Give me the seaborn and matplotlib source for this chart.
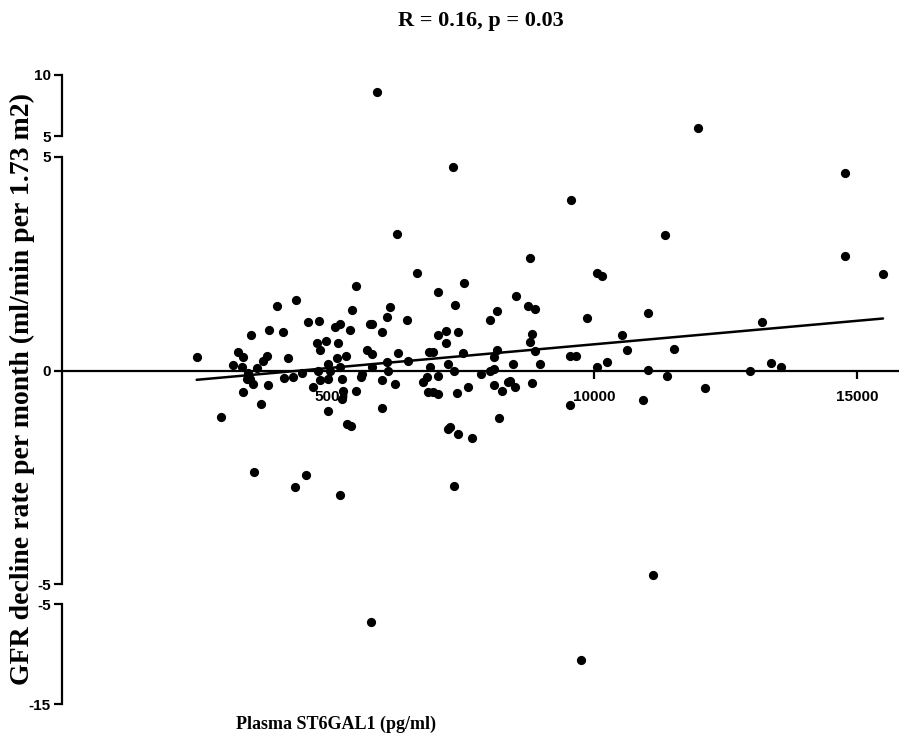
"""
Plasma ST6GAL1 vs GFR decline rate, broken y-axis scatter (Prism style).
"""

import numpy as np
import pandas as pd
import matplotlib
matplotlib.use("Agg")
import matplotlib.pyplot as plt
import seaborn as sns

sns.set_theme(style="white")
plt.rcParams["font.family"] = ["Liberation Sans Narrow", "Liberation Sans", "DejaVu Sans"]
plt.rcParams["text.color"] = "black"

# ── Data ─────────────────────────────────────────────────────────────────────
st6gal1 = [
    2446, 2915, 3479, 3815, 3979, 4334, 4093, 3238, 3320, 3143, 3314, 3713,
    3776, 3587, 3428, 3460, 3523, 3397, 3333, 3808, 3669, 4175, 4113, 4283,
    4441, 4568, 4771, 4727, 4898, 4790, 4746, 4790, 4663, 4949, 4980, 4949,
    4943, 5082, 5139, 5107,
    5171, 5393, 5361, 5475, 5285, 5171, 5203, 5234, 5203, 5298, 5374, 5583,
    5570, 5475, 5678, 5773, 5773, 5741, 5779, 5963, 6058, 6121, 6058, 6090,
    5963, 6216, 5963, 6267, 6451, 6457, 6755, 6831, 6850, 6945, 7040, 6869,
    6932, 6882, 7027, 7027, 7040, 7186, 7186, 7230, 7357, 7420, 7515, 7528,
    7344, 7389, 7610, 7217, 7262, 7420, 7686, 7845, 8022, 8161, 8149, 8104,
    8022, 8098, 8098, 8244, 8199, 8371,
    6634,
    8516, 8750, 8878, 8814, 8783, 8878, 8465, 8973, 8402, 8497, 8827, 9543,
    9657, 9860, 10050, 10253, 10538, 10633, 11032, 11020, 11380, 9543, 10937,
    10056, 10151, 15493, 8783, 14771, 11349, 6254, 9562, 14771, 7319,
    11526, 12109, 13199, 12965, 13364, 13554,
    3536, 4524, 4315, 5171, 7338, 11121,
    5874, 11976,
    5760, 9752,
]
gfr_decline = [
    0.31, -1.10, 0.82, 0.94, 1.51, 1.64, 0.90, 0.43, 0.31, 0.12, 0.08, 0.23,
    0.33, 0.05, -0.06, -0.20, -0.31, -0.20, -0.51, -0.34, -0.78, 0.30, -0.18, -0.16,
    -0.06, 1.13, 1.15, 0.64, 0.68, 0.47, 0.00, -0.23, -0.39, 0.16, 0.00, -0.20,
    -0.96, 1.03, 0.64, 0.30,
    1.10, 1.41, 0.94, 1.97, 0.35, 0.08, -0.20, -0.47, -0.66, -1.25, -1.29, -0.08,
    -0.16, -0.47, 0.49, 0.39, 0.08, 1.10, 1.08, 0.90, 1.25, 1.49, 0.20, 0.00,
    -0.23, -0.31, -0.88, 0.41, 1.19, 0.23, -0.27, -0.16, -0.51, -0.51, -0.55, 0.43,
    0.43, 0.08, -0.12, 1.84, 0.82, 0.92, 0.64, 0.16, 1.53, 0.90, 0.41, 2.06,
    0.00, -0.53, -0.38, -1.37, -1.33, -1.49, -1.59, -0.08, 1.19, 1.39, 0.49, 0.31,
    0.00, 0.04, -0.35, -0.47, -1.11, -0.27,
    2.28,
    1.74, 1.50, 1.43, 0.85, 0.66, 0.45, 0.16, 0.16, -0.25, -0.39, -0.30, 0.35,
    0.33, 1.24, 0.08, 0.20, 0.84, 0.49, 1.35, 0.02, -0.14, -0.81, -0.70,
    2.28, 2.21, 2.25, 2.63, 2.68, 3.17, 3.19, 3.99, 4.62, 4.77,
    0.51, -0.41, 1.13, 0.00, 0.17, 0.08,
    -2.37, -2.44, -2.72, -2.91, -2.70, -4.79,
    8.6, 5.68,
    -6.8, -10.6,
]

df = pd.DataFrame({"st6gal1": st6gal1, "gfr": gfr_decline})

# y ranges of the three axis segments
segments = [(5, 10), (-5, 5), (-15, -5)]
seg_ticks = [[5, 10], [-5, 0, 5], [-15, -5]]

serif = ["Liberation Serif", "DejaVu Serif"]
tick_font = ["Liberation Sans Narrow", "Liberation Sans", "DejaVu Sans"]

# ── Figure with three stacked panels ─────────────────────────────────────────
fig = plt.figure(figsize=(8.99, 7.42), dpi=100)
H = 742.0
W = 899.0
left = 62 / W
width = 1 - left
boxes = [(75, 136), (157, 584), (604, 704)]  # pixel top/bottom

axes = []
for (top, bot), (lo, hi), ticks in zip(boxes, segments, seg_ticks):
    ax = fig.add_axes([left, 1 - bot / H, width, (bot - top) / H])
    sub = df[(df["gfr"] >= lo) & (df["gfr"] <= hi)]
    sns.scatterplot(data=sub, x="st6gal1", y="gfr", ax=ax, color="black",
                    s=44, edgecolor="black", linewidth=0, legend=False)
    ax.set_xlim(-114, 15797)
    ax.set_ylim(lo, hi)
    ax.set_yticks(ticks)
    ax.set_yticklabels([str(t) for t in ticks], fontsize=11, fontweight="bold",
                       family=tick_font, color="black")
    ax.tick_params(axis="y", direction="out", length=6, width=1.6, pad=2,
                   left=True, colors="black")
    for side in ["top", "right", "bottom"]:
        ax.spines[side].set_visible(False)
    ax.spines["left"].set_linewidth(1.6)
    ax.spines["left"].set_color("black")
    ax.set_xlabel("")
    ax.set_ylabel("")
    ax.set_xticks([])
    ax.patch.set_alpha(0)
    axes.append(ax)

# middle panel: x axis sits at y = 0, plus the fitted line
mid = axes[1]
mid.spines["bottom"].set_visible(True)
mid.spines["bottom"].set_position(("data", 0))
mid.spines["bottom"].set_linewidth(1.6)
mid.spines["bottom"].set_color("black")
mid.set_xticks([5000, 10000, 15000])
mid.set_xticklabels(["5000", "10000", "15000"], fontsize=11, fontweight="bold",
                    family=tick_font, color="black")
mid.tick_params(axis="x", direction="out", length=6, width=1.6, pad=8,
                bottom=True, colors="black")
mid.set_axisbelow(True)
sns.regplot(data=df, x="st6gal1", y="gfr", ax=mid, scatter=False, ci=None,
            color="black", line_kws={"linewidth": 1.8})
mid.set_xlim(-114, 15797)
mid.set_ylim(-5, 5)
mid.set_xlabel("")
mid.set_ylabel("")

fig.text(0.535, 0.972, "R = 0.16, p = 0.03", ha="center", va="center",
         fontsize=16, fontweight="bold", family=serif, color="black")
fig.text(0.025, 0.476, "GFR decline rate per month (ml/min per 1.73 m2)",
         rotation=90, ha="center", va="center", fontsize=20, fontweight="bold",
         family=serif, color="black")
fig.text(0.374, 0.024, "Plasma ST6GAL1 (pg/ml)", ha="center", va="center",
         fontsize=13, fontweight="bold", family=serif, color="black")

fig.savefig("out.png", dpi=100)
